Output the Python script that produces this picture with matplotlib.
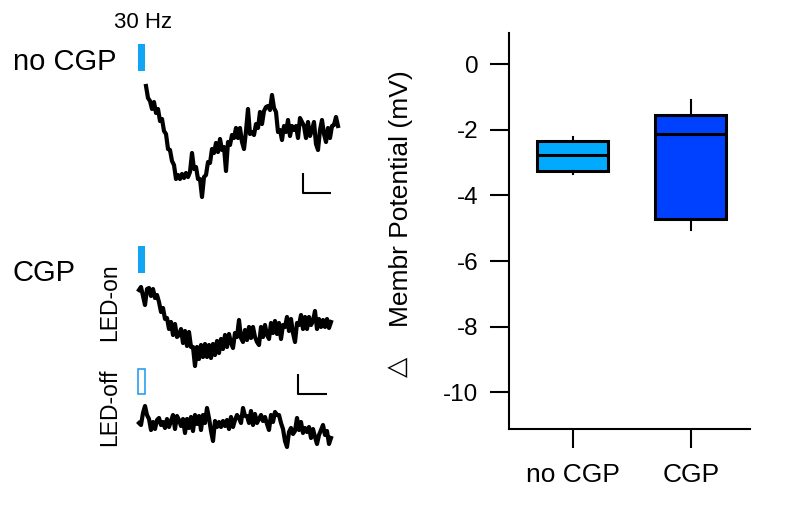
import numpy as np
import matplotlib.pyplot as plt
from matplotlib.patches import Rectangle

plt.rcParams['font.family'] = ['Liberation Sans', 'DejaVu Sans']
plt.rcParams['axes.unicode_minus'] = False

# box plot summary, change of membrane potential (mV)
groups = ['no CGP', 'CGP']
box_med = [-2.76, -2.12]
box_q1 = [-3.27, -4.73]
box_q3 = [-2.33, -1.55]
box_lo = [-3.35, -5.05]
box_hi = [-2.23, -1.09]
box_colors = ['#00AAFF', '#0040FF']

# example traces, one sample every 7 ms, values in 0.1 mV
dt = 7.0
trace_no_cgp = [1, -11, -14, -22, -15, -26, -22, -34, -32, -44,
                -47, -62, -63, -74, -78, -92, -88, -92, -87, -91,
                -86, -90, -85, -66, -82, -80, -92, -92, -110, -90,
                -88, -75, -76, -62, -66, -56, -65, -52, -63, -60,
                -84, -55, -58, -48, -51, -41, -51, -41, -55, -62,
                -44, -22, -47, -45, -48, -37, -41, -25, -37, -24,
                -20, -19, -23, -8, -21, -25, -45, -43, -53, -39,
                -45, -33, -49, -39, -43, -39, -51, -31, -35, -39,
                -51, -35, -49, -43, -35, -57, -63, -43, -33, -47,
                -55, -41, -51, -39, -38, -30, -39]
trace_led_on = [0, 3, -6, -15, 1, 2, -6, 1, -8, -5,
                -12, -22, -18, -29, -28, -39, -32, -45, -34, -47,
                -45, -39, -53, -41, -56, -42, -57, -57, -76, -57,
                -69, -55, -67, -54, -67, -55, -68, -54, -65, -51,
                -63, -49, -59, -45, -57, -44, -53, -58, -43, -47,
                -30, -48, -52, -40, -50, -37, -48, -37, -47, -52,
                -55, -37, -47, -35, -45, -49, -33, -43, -31, -44,
                -33, -49, -35, -37, -27, -41, -29, -43, -52, -33,
                -35, -25, -39, -27, -39, -27, -35, -31, -21, -39,
                -29, -37, -30, -37, -29, -38, -32]
trace_led_off = [2, 0, 12, 19, 10, 6, -5, 3, -4, 5,
                 7, 0, 3, -3, 6, -2, 4, 10, -4, 9,
                 5, -1, 6, -8, 6, -3, 8, -6, 10, 1,
                 9, -5, 10, 2, 17, 7, -6, -16, 4, -2,
                 3, -2, 4, -1, 5, -4, 8, -2, 5, 10,
                 7, 2, 17, 9, 9, 2, 14, 0, 11, 2,
                 6, 10, 4, 8, 1, -5, 10, 3, 13, 10,
                 10, 2, -4, -16, -22, -7, -3, -9, -6, 7,
                 -5, 3, -8, -3, -7, -2, -13, -4, -12, -19,
                 -10, -5, 0, -10, -6, -19, -13]
t0_no_cgp = 28.0
t0_cgp = 3.5
stim_dur = 24.5       # ms
bar_ms, bar_units = 100, 20   # scale bars: 100 ms, 2 mV

W, H = 787, 507
fig = plt.figure(figsize=(W / 100, H / 100), dpi=100)


def px_axes(x0, y0, x1, y1):
    return fig.add_axes([x0 / W, 1 - y1 / H, (x1 - x0) / W, (y1 - y0) / H])


def trace_axes(y0, y1, ref):
    # 1 px = 3.5 ms horizontally, 1 px = 0.1 mV vertically
    ax = px_axes(120, y0, 350, y1)
    ax.set_xlim((120 - 138) * 3.5, (350 - 138) * 3.5)
    ax.set_ylim(ref - y1, ref - y0)
    ax.axis('off')
    ax.patch.set_alpha(0)
    return ax


def scale_bar(ax, t, v):
    ax.plot([t, t, t + bar_ms], [v + bar_units, v, v], color='k', lw=1.5,
            solid_capstyle='butt')


trace_lw = 3.0

# no CGP
ax1 = trace_axes(35, 205, 87)
t = t0_no_cgp + dt * np.arange(len(trace_no_cgp))
ax1.plot(t, trace_no_cgp, color='k', lw=trace_lw)
ax1.add_patch(Rectangle((0, 16), stim_dur, 27, color='#12A5F4', lw=0))
scale_bar(ax1, 577, -106)

# CGP, LED on
ax2 = trace_axes(238, 400, 290)
t = t0_cgp + dt * np.arange(len(trace_led_on))
ax2.plot(t, trace_led_on, color='k', lw=trace_lw)
ax2.add_patch(Rectangle((0, 17), stim_dur, 27, color='#12A5F4', lw=0))
scale_bar(ax2, 560, -104)

# CGP, LED off
ax3 = trace_axes(362, 460, 425)
t = t0_cgp + dt * np.arange(len(trace_led_off))
ax3.plot(t, trace_led_off, color='k', lw=trace_lw)
ax3.add_patch(Rectangle((1.5, 31.5), stim_dur - 3, 25, facecolor='white',
                        edgecolor='#2AA0F0', lw=1.2))

fig.text(143 / W, 1 - 23 / H, '30 Hz', fontsize=16, ha='center', va='center')
fig.text(13 / W, 1 - 62 / H, 'no CGP', fontsize=21, ha='left', va='center')
fig.text(13 / W, 1 - 273 / H, 'CGP', fontsize=21, ha='left', va='center')
fig.text(110 / W, 1 - 302 / H, 'LED-on', fontsize=16.5, rotation=90,
         ha='center', va='center')
fig.text(110 / W, 1 - 407 / H, 'LED-off', fontsize=16.5, rotation=90,
         ha='center', va='center')

# box plot
ax = px_axes(509, 32.7, 750, 429.3)
stats = []
for i in range(len(groups)):
    stats.append({'med': box_med[i], 'q1': box_q1[i], 'q3': box_q3[i],
                  'whislo': box_lo[i], 'whishi': box_hi[i], 'fliers': []})
bp = ax.bxp(stats, positions=[1, 2], widths=0.6, patch_artist=True,
            showcaps=False, showfliers=False,
            boxprops=dict(lw=2.2, edgecolor='k'),
            medianprops=dict(color='k', lw=2.2),
            whiskerprops=dict(color='k', lw=1.5))
for patch, c in zip(bp['boxes'], box_colors):
    patch.set_facecolor(c)

ax.set_ylim(-11.13, 0.96)
ax.set_xlim(0.462, 2.499)
ax.set_yticks([0, -2, -4, -6, -8, -10])
ax.set_xticks([1, 2])
ax.set_xticklabels(groups)
for s in ['top', 'right']:
    ax.spines[s].set_visible(False)
for s in ['left', 'bottom']:
    ax.spines[s].set_linewidth(1.5)
ax.tick_params(axis='y', direction='out', length=14, width=1.5, pad=8,
               labelsize=17.5)
ax.tick_params(axis='x', direction='out', length=14, width=1.5, pad=10,
               labelsize=19)

fig.text(401 / W, 1 - 199 / H, 'Membr Potential (mV)', fontsize=19,
         rotation=90, ha='center', va='center')
fig.text(398 / W, 1 - 367 / H, '\u25b3', fontsize=19, rotation=90,
         ha='center', va='center', family=['DejaVu Sans'])

fig.savefig('out.png', dpi=100)
